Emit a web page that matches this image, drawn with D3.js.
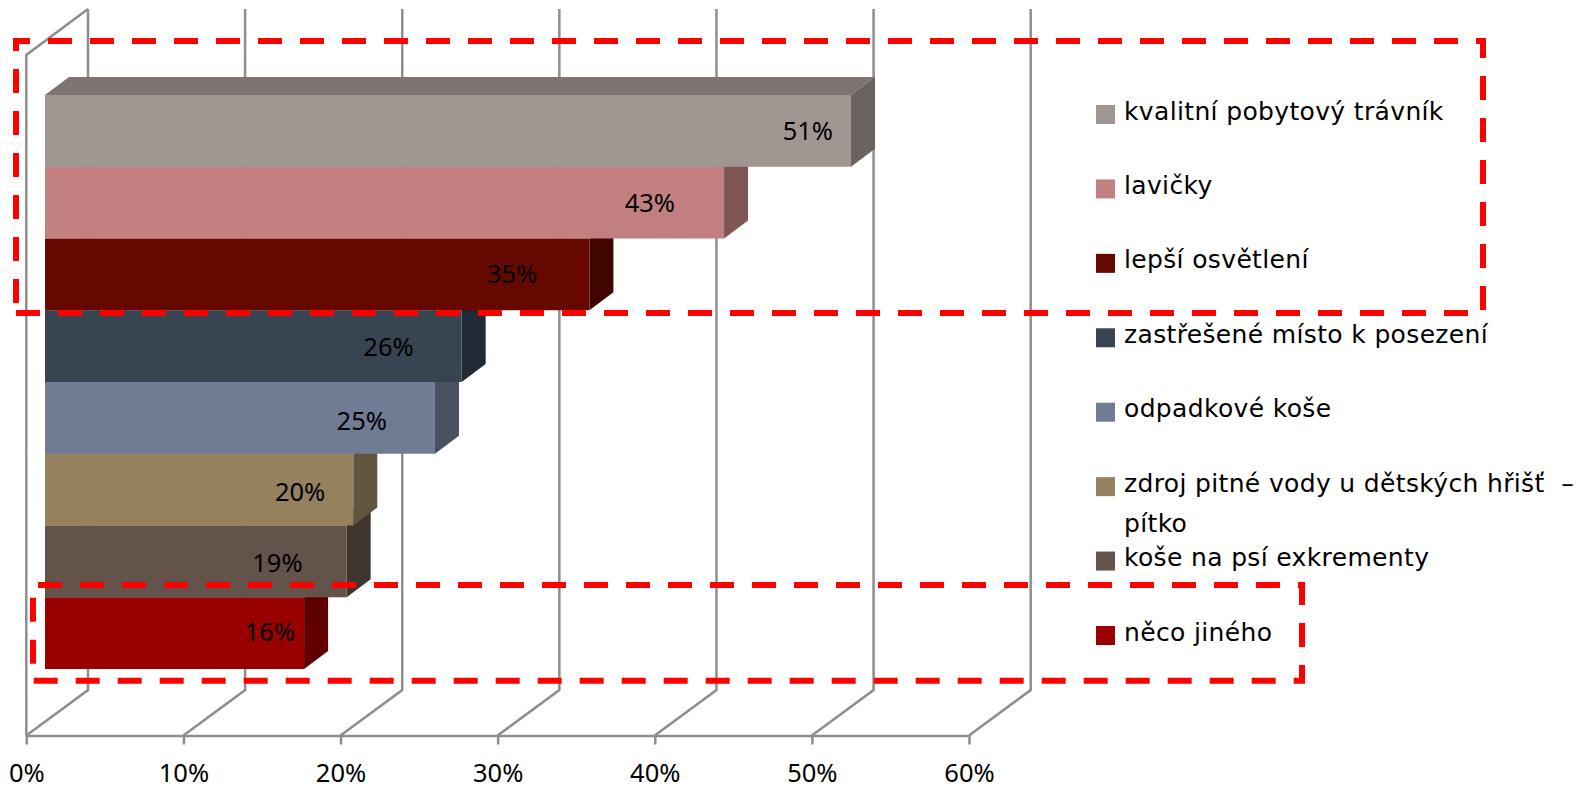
<!DOCTYPE html>
<html>
<head>
<meta charset="utf-8">
<script src="https://cdn.jsdelivr.net/npm/d3@7"></script>
<style>
html,body{margin:0;padding:0;background:#fff;overflow:hidden}
svg{display:block}
</style>
</head>
<body>
<svg id="c" width="1583" height="789"></svg>
<script>
const categories = ["kvalitní pobytový trávník","lavičky","lepší osvětlení","zastřešené místo k posezení","odpadkové koše","zdroj pitné vody u dětských hřišť  –|pítko","koše na psí exkrementy","něco jiného"];
const values = [51.3,43.22,34.65,26.52,24.82,19.62,19.2,16.49];
const valueLabels = ["51%","43%","35%","26%","25%","20%","19%","16%"];
const axisTicks = [0,10,20,30,40,50,60];
const frontColors = ["#A09793","#C38080","#660800","#384452","#707C94","#96815F","#63534A","#990000"];
const sideColors = ["#69625E","#805555","#400500","#222B35","#495060","#62543E","#3F352F","#600000"];
const topColors = ["#7E7472","#7E7472","#7E7472","#7E7472","#7E7472","#7E7472","#7E7472","#7E7472"];

const labelInset = [18,49,52,48,48,28,44,9];
const labelDrop = [9,9.4,8.6,9.5,12,11,11,8];

const svg = d3.select("#c");
const x = d3.scaleLinear().domain([0,60]).range([26.3,969]);
const y = d3.scaleBand().domain(categories).range([95,669]).padding(0);
const legendY = d3.scalePoint().domain(categories).range([105,626]);

const GRID = "#8E8E8E";
const wallDX = 61.7, wallDY = 45.5, wallTopFront = 55, wallTopBack = 9, base = 735.5;
const barOffset = 18.7, barDX = 24, barDY = 18;
const numFont = "'Noto Sans','Open Sans',sans-serif";

// walls and floor
const grid = svg.append("g").attr("fill","none").attr("stroke",GRID).attr("stroke-width",2.5);
grid.selectAll("path.g").data(axisTicks).join("path").attr("class","g")
  .attr("d", t => `M${x(t)},${base}L${x(t)+wallDX},${base-wallDY}L${x(t)+wallDX},${wallTopBack}`);
grid.append("path").attr("d",
  `M${x(0)},${base}L${x(0)},${wallTopFront}L${x(0)+wallDX},${wallTopBack}`);

// axis
const axis = svg.append("g").attr("transform",`translate(0,${base})`)
  .call(d3.axisBottom(x).tickValues(axisTicks).tickSize(9).tickSizeOuter(0).tickFormat(d=>d+"%"));
axis.selectAll("path.domain").attr("stroke",GRID).attr("stroke-width",2.5);
axis.selectAll("line").attr("stroke",GRID).attr("stroke-width",2.5);
axis.selectAll("text").attr("y",46).attr("dy",0).attr("fill","#000")
  .style("font-family",numFont).style("font-size","25.5px");

// bars, drawn bottom to top
const order = d3.range(categories.length).reverse();
const bars = svg.append("g");
order.forEach(i => {
  const c = categories[i], l = x(0)+barOffset, r = x(values[i])+barOffset;
  const t = y(c), b = t+y.bandwidth();
  const g = bars.append("g");
  g.append("path").attr("fill",topColors[i])
    .attr("d",`M${l},${t}L${l+barDX},${t-barDY}L${r+barDX},${t-barDY}L${r},${t}Z`);
  g.append("path").attr("fill",sideColors[i])
    .attr("d",`M${r},${t}L${r+barDX},${t-barDY}L${r+barDX},${b-barDY}L${r},${b}Z`);
  g.append("rect").attr("x",l).attr("y",t).attr("width",r-l).attr("height",b-t).attr("fill",frontColors[i]);
});

// value labels
svg.append("g").selectAll("text").data(categories).join("text")
  .attr("x",(c,i)=>x(values[i])+barOffset-labelInset[i])
  .attr("y",(c,i)=>y(c)+y.bandwidth()/2+labelDrop[i])
  .attr("text-anchor","end").attr("fill","#000")
  .style("font-family",numFont).style("font-size","25.5px")
  .text((c,i)=>valueLabels[i]);

// legend
const legend = svg.append("g");
categories.forEach((c,i)=>{
  const top = legendY(c);
  legend.append("rect").attr("x",1096).attr("y",top).attr("width",19).attr("height",19).attr("fill",frontColors[i]);
  c.split("|").forEach((line,j)=>{
    legend.append("text").attr("x",1124).attr("y",top+14.5+j*40.5)
      .style("white-space","pre").style("letter-spacing","0.35px")
      .style("font-family","'DejaVu Sans',sans-serif").style("font-size","25px").attr("fill","#000")
      .text(line);
  });
});

// dashed highlight boxes
function box(x0,y0,x1,y1,o1,o2){
  const g = svg.append("g").attr("fill","none").attr("stroke","#FF0000").attr("stroke-width",6)
    .attr("stroke-dasharray","24 18").attr("stroke-linejoin","miter");
  g.append("path").attr("d",`M${x0},${y0}L${x1},${y0}L${x1},${y1}L${x0},${y1}`).attr("stroke-dashoffset",o1);
  g.append("path").attr("d",`M${x0},${y1}L${x0},${y0-3}`).attr("stroke-dashoffset",o2);
}
box(16,41,1483,313,10,32);
box(33,585,1302,680.7,37,25);
</script>
</body>
</html>
